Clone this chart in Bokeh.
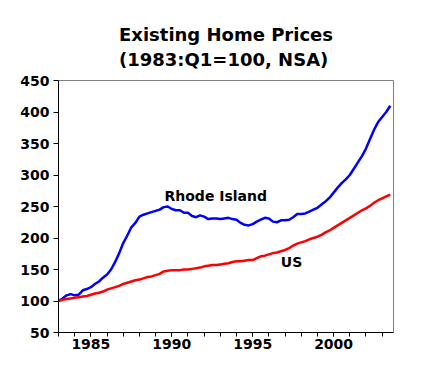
from bokeh.plotting import figure
from bokeh.models import Title, Range1d, FixedTicker, Label
from bokeh.embed import file_html
from bokeh.resources import INLINE

years = list(range(1983, 2004))
quarters = [y + q / 4 for y in years for q in range(4)][:83]

rhode_island = [
    100, 104, 109, 111,
    109, 110, 117, 119,
    122, 127, 131, 137,
    142, 150, 162, 176,
    192, 204, 217, 224,
    234, 237, 239, 241,
    243, 245, 249, 250,
    246, 244, 244, 240,
    240, 235, 233, 236,
    234, 230, 231, 231,
    230, 231, 232, 230,
    229, 224, 221, 220,
    222, 226, 229, 232,
    231, 226, 225, 228,
    228, 229, 233, 238,
    238, 239, 242, 245,
    248, 253, 258, 264,
    272, 280, 287, 293,
    300, 310, 320, 330,
    342, 357, 372, 384,
    392, 400, 410,
]
us = [
    100, 102, 103, 104,
    105, 106, 107, 108,
    110, 112, 113, 115,
    118, 120, 122, 124,
    127, 129, 131, 133,
    134, 136, 138, 139,
    141, 143, 147, 148,
    149, 149, 149, 150,
    150, 151, 152, 153,
    155, 156, 157, 157,
    158, 159, 160, 162,
    163, 163, 164, 165,
    165, 168, 171, 172,
    174, 176, 177, 179,
    181, 184, 188, 191,
    193, 195, 198, 200,
    202, 205, 209, 212,
    216, 220, 224, 228,
    232, 236, 240, 244,
    247, 251, 256, 260,
    263, 266, 269,
]
y_ticks = [50, 100, 150, 200, 250, 300, 350, 400, 450]
x_ticks = [1985, 1990, 1995, 2000]
title_lines = ["Existing Home Prices", "(1983:Q1=100, NSA)"]
series_labels = ["Rhode Island", "US"]

FONT = "DejaVu Sans"

p = figure(width=416, height=361, output_backend="svg", toolbar_location=None,
           x_range=Range1d(1983.0, 2003.7), y_range=Range1d(50, 450),
           min_border_left=58, min_border_right=23, min_border_bottom=29,
           min_border_top=80)
p.title = Title(text="\n".join(title_lines), align="center", text_font=FONT,
                text_font_size="18px", text_font_style="bold",
                text_color="black", standoff=21, text_line_height=1.2)

p.grid.visible = False
p.background_fill_color = "white"
p.border_fill_color = "white"
p.outline_line_color = "#808080"
p.outline_line_width = 1

p.line(quarters, rhode_island, line_color="#0000FF", line_width=2.5)
p.line(quarters, us, line_color="#FF0000", line_width=2.5)

p.add_layout(Label(x=1989.55, y=267, text=series_labels[0], text_font=FONT,
                   text_font_size="14px", text_font_style="bold",
                   text_baseline="middle", text_align="left", text_color="black"))
p.add_layout(Label(x=1997.4, y=162, text=series_labels[1], text_font=FONT,
                   text_font_size="14px", text_font_style="bold",
                   text_baseline="middle", text_align="center", text_color="black"))

xa = p.xaxis[0]
xa.ticker = FixedTicker(ticks=x_ticks, minor_ticks=list(range(1983, 2004)))
xa.major_label_text_font = FONT
xa.major_label_text_font_size = "14px"
xa.major_label_text_font_style = "bold"
xa.major_label_text_color = "black"
xa.major_tick_in = 0
xa.major_tick_out = 4
xa.minor_tick_in = 0
xa.minor_tick_out = 4
xa.axis_line_color = "black"
xa.major_tick_line_color = "black"
xa.minor_tick_line_color = "black"
xa.major_label_standoff = 2

ya = p.yaxis[0]
ya.ticker = FixedTicker(ticks=y_ticks)
ya.major_label_text_font = FONT
ya.major_label_text_font_size = "14px"
ya.major_label_text_font_style = "bold"
ya.major_label_text_color = "black"
ya.major_tick_in = 0
ya.major_tick_out = 5
ya.minor_tick_line_color = None
ya.axis_line_color = "black"
ya.major_tick_line_color = "black"
ya.major_label_standoff = 4

open("out.html", "w").write(file_html(p, INLINE))
